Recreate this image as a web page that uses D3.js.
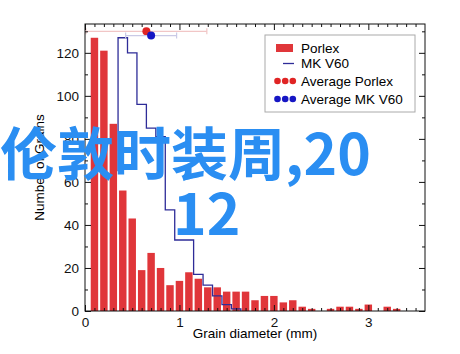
<!DOCTYPE html>
<html>
<head>
<meta charset="utf-8">
<script src="https://cdn.jsdelivr.net/npm/d3@7"></script>
<style>
  body { margin: 0; background: #fff; }
  svg { display: block; font-family: "Liberation Sans", Arial, sans-serif; }
</style>
</head>
<body>
<svg class="chart"></svg>
<script>
// grain size histogram, bins are 0.1 mm wide
var porlexBins = [0.1, 0.2, 0.3, 0.4, 0.5, 0.6, 0.7, 0.8, 0.9, 1.0, 1.1, 1.2, 1.3, 1.4, 1.5, 1.6, 1.7,
    1.8, 1.9, 2.0, 2.1, 2.2, 2.3, 2.4, 2.5, 2.6, 2.7, 2.8, 2.9, 3.0, 3.1, 3.2, 3.3, 3.4];
var porlexCounts = [127, 121, 87, 56, 43, 19, 27, 20, 12, 14, 18, 15, 11, 11, 9, 9, 9,
    5, 7, 7, 4, 5, 2, 1, 0, 1, 2, 2, 1, 3, 0, 2, 1, 0];

// first MK bin is mostly hidden under the watermark, only its right edge shows
var mkBins = [0.3, 0.4, 0.5, 0.6, 0.7, 0.8, 0.9, 1.0, 1.1, 1.2, 1.3, 1.4, 1.5, 1.6];
var mkCounts = [65, 127, 120, 96, 85, 81, 47, 33, 33, 17, 12, 7, 3, 1];

// averages with spread (mm), drawn near the top
var averageNames = ["Average Porlex", "Average MK V60"];
var averageMeans = [0.65, 0.70];
var averageSpread = [0.64, 0.27];
var averageLevel = [130, 128];

var xTicks = [0, 1, 2, 3];
var yTicks = [0, 20, 40, 60, 80, 100, 120];
var legendNames = ["Porlex", "MK V60", "Average Porlex", "Average MK V60"];

var chartWidth = 460, chartHeight = 354;
// plot box (window.top is taken, so no "top" here)
var plotL = 85, plotR = 425, plotT = 24, plotB = 311;
var binWidth = 0.1;

var red = "#e0363a", navy = "#2e2c98", dotRed = "#e02424", dotBlue = "#1616c4";

var svg = d3.select(".chart").attr("width", chartWidth).attr("height", chartHeight);

var x = d3.scaleLinear().domain([0, 3.6]).range([plotL, plotR]);
var y = d3.scaleLinear().domain([0, 133.4]).range([plotB, plotT]);

// bars
svg.append("g").selectAll("rect")
    .data(porlexBins)
    .enter().append("rect")
    .attr("x", function (d) { return x(d - binWidth / 2) + 1; })
    .attr("width", function (d) { return x(d + binWidth / 2) - x(d - binWidth / 2) - 2; })
    .attr("y", function (d, i) { return y(porlexCounts[i]); })
    .attr("height", function (d, i) { return y(0) - y(porlexCounts[i]); })
    .style("fill", red);

// step outline, starting at the right edge of the first bin
var stepPts = [[mkBins[0] + binWidth / 2, mkCounts[0]]];
mkBins.forEach(function (d, i) { if (i > 0) stepPts.push([d - binWidth / 2, mkCounts[i]]); });
stepPts.push([mkBins[mkBins.length - 1] + binWidth / 2, 0]);

svg.append("path")
    .attr("d", d3.line()
        .x(function (d) { return x(d[0]); })
        .y(function (d) { return y(d[1]); })
        .curve(d3.curveStepAfter)(stepPts))
    .style("fill", "none")
    .style("stroke", navy)
    .style("stroke-width", 1.3);

// averages
var errColors = ["#f1c6c6", "#cacae6"];
var dotColors = [dotRed, dotBlue];
averageMeans.forEach(function (m, i) {
    var g = svg.append("g");
    var x0 = Math.max(x(m - averageSpread[i]), plotL), x1 = x(m + averageSpread[i]);
    var yy = y(averageLevel[i]);
    g.append("line").attr("x1", x0).attr("x2", x1).attr("y1", yy).attr("y2", yy)
        .style("stroke", errColors[i]).style("stroke-width", 1.2);
    [x0, x1].forEach(function (xx) {
        g.append("line").attr("x1", xx).attr("x2", xx).attr("y1", yy - 3).attr("y2", yy + 3)
            .style("stroke", errColors[i]).style("stroke-width", 1.2);
    });
    g.append("circle").attr("cx", x(m)).attr("cy", yy).attr("r", 4).style("fill", dotColors[i]);
});

// frame + ticks (all pointing inward)
function minorX() { var a = []; for (var i = 1; i < 36; i++) if (i % 10) a.push(i / 10); return a; }
function minorY() { return [10, 30, 50, 70, 90, 110, 130]; }

var axes = [
    { ax: d3.axisBottom(x), tr: "translate(0," + plotB + ")", major: xTicks, minor: minorX(), labels: true },
    { ax: d3.axisTop(x), tr: "translate(0," + plotT + ")", major: xTicks, minor: minorX(), labels: false },
    { ax: d3.axisLeft(y), tr: "translate(" + plotL + ",0)", major: yTicks, minor: minorY(), labels: true },
    { ax: d3.axisRight(y), tr: "translate(" + plotR + ",0)", major: yTicks, minor: minorY(), labels: false }
];
axes.forEach(function (a) {
    var orient = a.ax;
    var gMajor = svg.append("g").attr("transform", a.tr)
        .call(orient.tickValues(a.major).tickSizeInner(-6).tickSizeOuter(0).tickPadding(a.labels ? 6 : 0)
            .tickFormat(a.labels ? d3.format("d") : ""));
    gMajor.select(".domain").remove();
    gMajor.selectAll("text").style("font-size", "13.5px").style("fill", "#111");
    gMajor.selectAll("line").style("stroke", "#111");
    if (!a.labels) gMajor.selectAll("text").remove();
    var gMinor = svg.append("g").attr("transform", a.tr)
        .call(orient.tickValues(a.minor).tickSizeInner(-3).tickSizeOuter(0).tickFormat(""));
    gMinor.select(".domain").remove();
    gMinor.selectAll("text").remove();
    gMinor.selectAll("line").style("stroke", "#111");
});

svg.append("rect")
    .attr("x", plotL).attr("y", plotT)
    .attr("width", plotR - plotL).attr("height", plotB - plotT)
    .style("fill", "none").style("stroke", "#111").style("stroke-width", 1);

// axis titles
svg.append("text")
    .attr("x", (plotL + plotR) / 2).attr("y", 338)
    .attr("text-anchor", "middle")
    .style("font-size", "13.5px")
    .text("Grain diameter (mm)");

svg.append("text")
    .attr("transform", "translate(44," + (plotT + plotB) / 2 + ") rotate(-90)")
    .attr("text-anchor", "middle")
    .style("font-size", "13.5px")
    .text("Number of Grains");

// legend
var legend = svg.append("g");
legend.append("rect")
    .attr("x", 265).attr("y", 35).attr("width", 150).attr("height", 77)
    .style("fill", "#fff").style("stroke", "#aaa");
var rowY = [53, 68, 86, 104];
legend.selectAll("text.lg")
    .data(legendNames)
    .enter().append("text")
    .attr("class", "lg")
    .attr("x", 301).attr("y", function (d, i) { return rowY[i]; })
    .style("font-size", "13.5px")
    .text(function (d) { return d; });
legend.append("rect").attr("x", 276).attr("y", 44).attr("width", 17).attr("height", 8).style("fill", red);
legend.append("line").attr("x1", 283).attr("x2", 294).attr("y1", 63.5).attr("y2", 63.5)
    .style("stroke", navy).style("stroke-width", 1.3);
[0, 1].forEach(function (k) {
    [277.5, 285.2, 292.8].forEach(function (cx) {
        legend.append("circle").attr("cx", cx).attr("cy", rowY[k + 2] - 5).attr("r", 3.3).style("fill", dotColors[k]);
    });
});

// watermark
var mark = svg.append("text")
    .style("font-family", "'Noto Sans CJK SC', sans-serif")
    .style("font-weight", "bold")
    .style("font-size", "57px")
    .style("fill", "#2a8ef2");
mark.append("tspan").attr("x", 0).attr("y", 175).text("伦敦时装周,20");
mark.append("tspan").attr("x", 173).attr("y", 235).text("12");
</script>
</body>
</html>
